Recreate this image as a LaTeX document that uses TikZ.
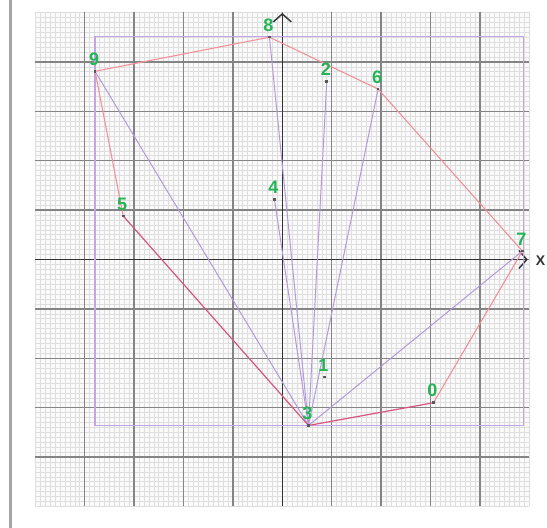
\documentclass[tikz,border=0pt]{standalone}
\usepackage{fontspec}
\setmainfont{Liberation Sans}
\usetikzlibrary{arrows.meta}
\definecolor{minorc}{RGB}{222,222,222}
\definecolor{majorc}{RGB}{132,132,132}
\definecolor{axisc}{RGB}{50,50,50}
\definecolor{boxc}{RGB}{195,165,228}
\definecolor{hullc}{RGB}{242,145,155}
\definecolor{triac}{RGB}{178,155,218}
\definecolor{mixc}{RGB}{215,85,130}
\definecolor{lblc}{RGB}{34,180,85}
\definecolor{barc}{RGB}{165,165,165}
\tikzset{
  minorline/.style={minorc, line width=0.6pt},
  majorline/.style={majorc, line width=1.3pt},
  axisline/.style={axisc, line width=1.4pt},
  bboxline/.style={boxc, line width=1.3pt},
  hulledge/.style={hullc, line width=1.1pt},
  triaedge/.style={triac, line width=1.0pt},
  mixedge/.style={mixc, line width=1.2pt},
  ptdot/.style={rectangle, fill=black!65, inner sep=0pt, minimum size=2.6pt},
  ptlbl/.style={inner sep=0pt, text=lblc, font=\fontsize{18}{18}\selectfont\bfseries},
  axlbl/.style={inner sep=0pt, text=axisc, font=\fontsize{14}{14}\selectfont\bfseries}
}
\begin{document}
\begin{tikzpicture}[x=49.4pt, y=49.4pt]
\useasboundingbox (-5.7146,-5.4352) rectangle (5.3583,5.2530);
\fill[white] (-5.7146,-5.4352) rectangle (5.3583,5.2530);
% left bar
\draw[barc, line width=2.6pt] (-5.502,-5.4352) -- (-5.502,5.2530);
% grid
\fill[black!2] (-5,-5) rectangle (5,5);
\foreach \i in {-50,...,50} {
  \draw[minorline] (\i/10,-5) -- (\i/10,5);
  \draw[minorline] (-5,\i/10) -- (5,\i/10);
}
\foreach \i in {-4,...,4} {
  \draw[majorline] (\i,-5) -- (\i,5);
  \draw[majorline] (-5,\i) -- (5,\i);
}
% axes
\coordinate (xs) at (-5,0);
\coordinate (xe) at (4.97,0);
\coordinate (ys) at (0,-5);
\coordinate (ye) at (0,4.99);
\draw[axisline, -{Straight Barb[length=8pt, width=18pt, line width=1.4pt]}] (xs) -- (xe);
\draw[axisline, -{Straight Barb[length=8pt, width=18pt, line width=1.4pt]}] (ys) -- (ye);
\node[axlbl, anchor=west] (xl) at (5.13,-0.02) {X};
% bounding rectangle
\draw[bboxline] (-3.79,-3.36) rectangle (4.88,4.51);
% points
\coordinate (p0) at (3.06,-2.90);
\coordinate (p1) at (0.85,-2.38);
\coordinate (p2) at (0.90,3.60);
\coordinate (p3) at (0.53,-3.36);
\coordinate (p4) at (-0.16,1.22);
\coordinate (p5) at (-3.22,0.88);
\coordinate (p6) at (1.94,3.45);
\coordinate (p7) at (4.86,0.17);
\coordinate (p8) at (-0.26,4.50);
\coordinate (p9) at (-3.79,3.81);
% hull
\draw[hulledge] (p9) -- (p8);
\draw[hulledge] (p8) -- (p6);
\draw[hulledge] (p6) -- (p7);
\draw[hulledge] (p7) -- (p0);
\draw[hulledge] (p5) -- (p9);
% fan from 3
\foreach \q in {9,4,8,2,6,7} {
  \draw[triaedge] (p3) -- (p\q);
}
\draw[mixedge] (p3) -- (p5);
\draw[mixedge] (p3) -- (p0);
% dots and labels
\foreach \q in {0,...,9} {
  \node[ptdot] (d\q) at (p\q) {};
  \node[ptlbl] (t\q) at ([xshift=-1pt, yshift=12pt]p\q) {\q};
}
\end{tikzpicture}
\end{document}
